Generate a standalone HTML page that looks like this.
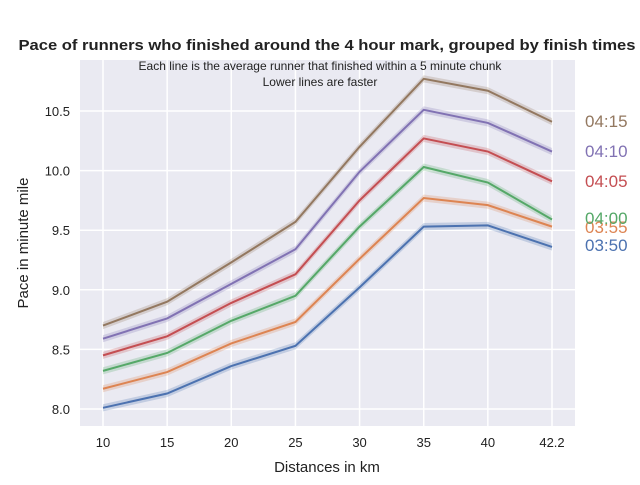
<!DOCTYPE html>
<html><head><meta charset="utf-8"><style>
body{margin:0;background:#fff;font-family:"Liberation Sans","DejaVu Sans",sans-serif}
</style></head><body>
<svg id="chart" width="640" height="480" xmlns="http://www.w3.org/2000/svg">
<rect x="80" y="60" width="495" height="366" fill="#eaeaf2"/>
<g id="grid"></g><g id="series"></g><g id="axes"></g>
<text x="327" y="50" text-anchor="middle" font-size="14.8" font-weight="bold" fill="#222" textLength="617" lengthAdjust="spacingAndGlyphs">Pace of runners who finished around the 4 hour mark, grouped by finish times</text>
<text x="320" y="70" text-anchor="middle" font-size="12" fill="#222">Each line is the average runner that finished within a 5 minute chunk</text>
<text x="320" y="86" text-anchor="middle" font-size="12" fill="#222">Lower lines are faster</text>
<text x="327" y="472" text-anchor="middle" font-size="15" fill="#222">Distances in km</text>
<text transform="translate(28,243) rotate(-90)" text-anchor="middle" font-size="15" fill="#222">Pace in minute mile</text>
</svg>
<script>
const categories=["10","15","20","25","30","35","40","42.2"];
const groups=["03:50","03:55","04:00","04:05","04:10","04:15"];
const s0350=[8.01,8.13,8.36,8.53,9.02,9.53,9.54,9.36];
const s0355=[8.17,8.31,8.55,8.73,9.26,9.77,9.71,9.53];
const s0400=[8.32,8.47,8.74,8.95,9.53,10.03,9.90,9.59];
const s0405=[8.45,8.61,8.89,9.13,9.75,10.27,10.16,9.91];
const s0410=[8.59,8.76,9.05,9.34,9.99,10.51,10.40,10.16];
const s0415=[8.70,8.90,9.23,9.57,10.20,10.77,10.67,10.41];
const yTicks=[8.0,8.5,9.0,9.5,10.0,10.5];
const labelYs=[245,227,218,181,151,121];
const series=[s0350,s0355,s0400,s0405,s0410,s0415];
const colors=["#4c72b0","#dd8452","#55a868","#c44e52","#8172b3","#937860"];
const NS="http://www.w3.org/2000/svg";
const xs=i=>103+i*(552-103)/(categories.length-1);
const ys=v=>409-(v-8)*119.2;
function mk(t,a,p){const e=document.createElementNS(NS,t);for(const k in a)e.setAttribute(k,a[k]);p.appendChild(e);return e;}
const grid=document.getElementById('grid'),axes=document.getElementById('axes'),sg=document.getElementById('series');
categories.forEach((c,i)=>{
 const l=mk('line',{x1:xs(i),x2:xs(i),y1:60,y2:426,stroke:'#fff','stroke-width':1.5},grid);
 
 
 const t=mk('text',{x:xs(i),y:447,'text-anchor':'middle','font-size':13,fill:'#222'},axes);t.textContent=c;
 
 
});
yTicks.forEach(v=>{
 const l=mk('line',{x1:80,x2:575,y1:ys(v),y2:ys(v),stroke:'#fff','stroke-width':1.5},grid);
 
 
 const t=mk('text',{x:70,y:ys(v)+5,'text-anchor':'end','font-size':13,fill:'#222'},axes);t.textContent=v.toFixed(1);
 
 
});
series.forEach((s,k)=>{
 const up=s.map((v,i)=>xs(i)+','+ys(v+0.03)).join(' ');
 const dn=s.map((v,i)=>xs(i)+','+ys(v-0.03)).reverse().join(' ');
 const b=mk('polygon',{points:up+' '+dn,fill:colors[k],opacity:0.25},sg);
 
 
 const p=mk('polyline',{points:s.map((v,i)=>xs(i)+','+ys(v)).join(' '),fill:'none',stroke:colors[k],'stroke-width':2},sg);
 
 
 const t=mk('text',{x:585,y:labelYs[k]+6,'font-size':17,fill:colors[k]},sg);t.textContent=groups[k];
 
 
});
</script>
</body></html>
